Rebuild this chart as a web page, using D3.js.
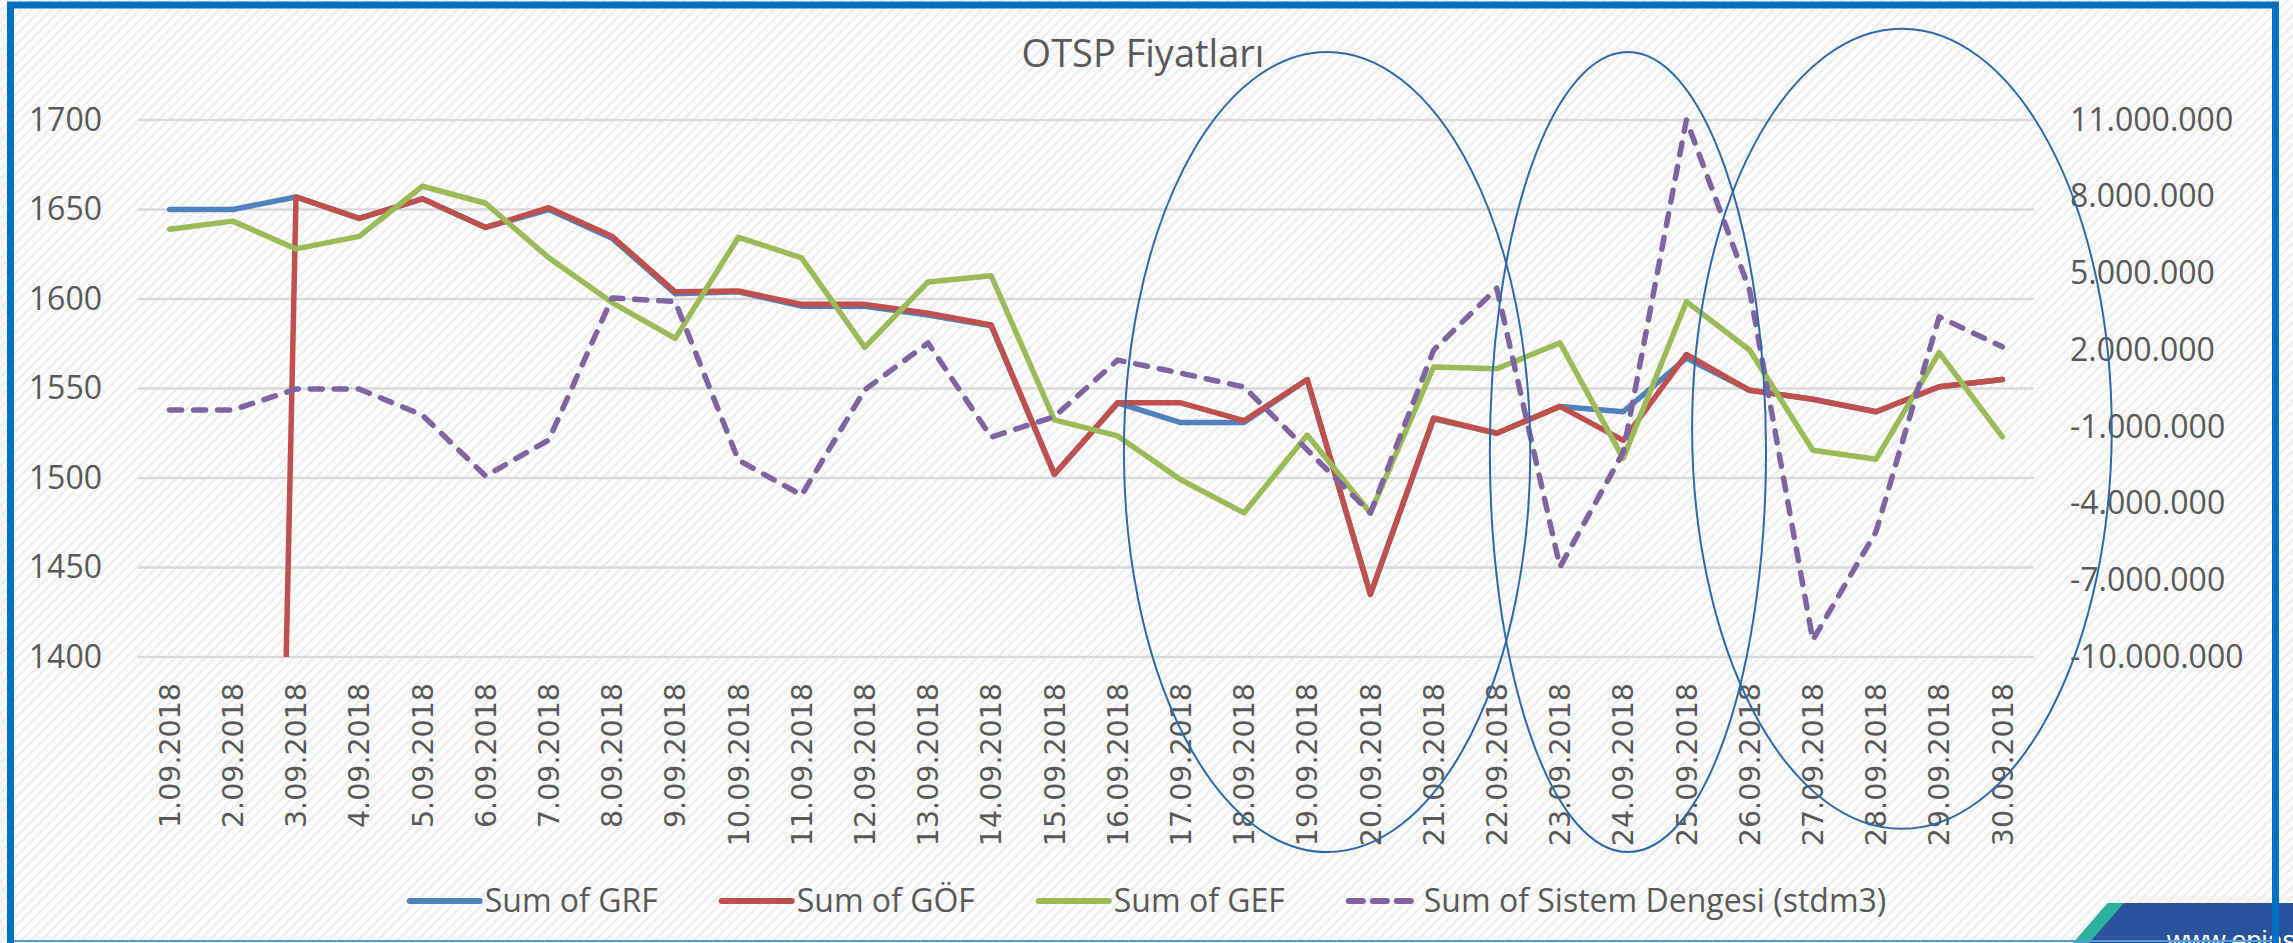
<!DOCTYPE html>
<html>
<head>
<meta charset="utf-8">
<script src="https://cdn.jsdelivr.net/npm/d3@7"></script>
<style>
  html, body { margin: 0; padding: 0; background: #fff; }
  svg { display: block; font-family: "Open Sans", sans-serif; }
</style>
</head>
<body>
<div id="js-canvas"></div>
<script>
"use strict";

// Days on the x axis.
const days = [
  "1.09.2018", "2.09.2018", "3.09.2018", "4.09.2018", "5.09.2018",
  "6.09.2018", "7.09.2018", "8.09.2018", "9.09.2018", "10.09.2018",
  "11.09.2018", "12.09.2018", "13.09.2018", "14.09.2018", "15.09.2018",
  "16.09.2018", "17.09.2018", "18.09.2018", "19.09.2018", "20.09.2018",
  "21.09.2018", "22.09.2018", "23.09.2018", "24.09.2018", "25.09.2018",
  "26.09.2018", "27.09.2018", "28.09.2018", "29.09.2018", "30.09.2018"
];

// Left axis series (TL/MWh).
const grf = [1650, 1650, 1657, 1645, 1656, 1640, 1650, 1634, 1603, 1604,
             1596, 1596, 1591, 1585, 1502, 1542, 1531, 1531, 1555, 1435,
             1533, 1525, 1540, 1537, 1567, 1549, 1544, 1537, 1551, 1555];
const gof = [0, 0, 1657, 1645, 1656, 1640, 1651, 1635, 1604, 1604.5,
             1597, 1597, 1592, 1585.5, 1502, 1542, 1542, 1532, 1555, 1435,
             1533.5, 1525, 1540, 1521, 1569, 1549, 1544, 1537, 1551, 1555];
const gef = [1639, 1643.5, 1628, 1635, 1663, 1653.5, 1623, 1598, 1578, 1634.5,
             1623, 1573, 1609.5, 1613, 1532.5, 1523.5, 1499, 1480.5, 1524, 1480.5,
             1562, 1561, 1575.5, 1511, 1598.5, 1571.5, 1515.5, 1510.5, 1570, 1523];

// Right axis series (stdm3).
const dengesi = [-340000, -340000, 480000, 480000, -540000,
                 -2920000, -1510000, 4040000, 3900000, -2300000,
                 -3670000, 450000, 2280000, -1400000, -600000,
                 1610000, 1100000, 560000, -1900000, -4370000,
                 2000000, 4420000, -6480000, -2000000, 11000000,
                 4350000, -9340000, -5100000, 3300000, 2130000];

const leftTicks = [1400, 1450, 1500, 1550, 1600, 1650, 1700];
const rightTicks = [-10000000, -7000000, -4000000, -1000000,
                    2000000, 5000000, 8000000, 11000000];

// Hand drawn highlight ellipses, in day / price units.
const highlights = [
  { dayFrom: 16.1, dayTo: 22.53, low: 1291, high: 1738 },
  { dayFrom: 21.89, dayTo: 26.26, low: 1291, high: 1738 },
  { dayFrom: 25.09, dayTo: 31.73, low: 1304, high: 1751 }
];

const legendNames = ["Sum of GRF", "Sum of GÖF", "Sum of GEF",
                     "Sum of Sistem Dengesi (stdm3)"];

const width = 2293;
const height = 943;
const plot = { left: 138, right: 2034, top: 120, bottom: 657 };
const textColor = "#595959";

const trLocale = d3.formatLocale({
  decimal: ",", thousands: ".", grouping: [3], currency: ["", ""], minus: "-"
});
const fmtRight = trLocale.format(",");
const fmtLeft = d3.format("d");

const svg = d3.select("#js-canvas")
  .append("svg")
    .attr("width", width)
    .attr("height", height);

const defs = svg.append("defs");
const hatch = defs.append("pattern")
  .attr("id", "hatch")
  .attr("width", 7)
  .attr("height", 7)
  .attr("patternUnits", "userSpaceOnUse")
  .attr("patternTransform", "rotate(45)");
hatch.append("rect").attr("width", 7).attr("height", 7).attr("fill", "#fcfcfc");
hatch.append("line")
  .attr("x1", 1).attr("y1", 0).attr("x2", 1).attr("y2", 7)
  .attr("stroke", "#ececec").attr("stroke-width", 2);

defs.append("clipPath").attr("id", "plot-clip")
  .append("rect")
    .attr("x", plot.left)
    .attr("y", plot.top - 10)
    .attr("width", plot.right - plot.left + 10)
    .attr("height", plot.bottom - plot.top + 10);

svg.append("rect")
  .attr("width", width)
  .attr("height", height)
  .attr("fill", "url(#hatch)");

// Scales
const x = d3.scaleBand().domain(days).range([plot.left, plot.right]);
const cx = function (d) { return x(d) + x.bandwidth() / 2; };
const xDay = d3.scaleLinear().domain([1, 30])
  .range([cx(days[0]), cx(days[days.length - 1])]);
const yLeft = d3.scaleLinear().domain([1400, 1700]).range([plot.bottom, plot.top]);
const yRight = d3.scaleLinear().domain([-10000000, 11000000])
  .range([plot.bottom, plot.top]);

// Gridlines
svg.append("g")
  .selectAll("line")
  .data(leftTicks)
  .enter()
  .append("line")
    .attr("x1", plot.left)
    .attr("x2", plot.right)
    .attr("y1", function (d) { return yLeft(d); })
    .attr("y2", function (d) { return yLeft(d); })
    .attr("stroke", "#d9d9d9")
    .attr("stroke-width", 2.5);

// Left axis labels
const leftAxis = d3.axisLeft(yLeft).tickValues(leftTicks)
  .tickSize(0).tickPadding(0).tickFormat(fmtLeft);
const gl = svg.append("g")
  .attr("transform", "translate(102,0)")
  .call(leftAxis);
gl.select(".domain").remove();
gl.selectAll("text")
  .attr("font-family", "'Open Sans', sans-serif")
  .attr("font-size", 32)
  .attr("fill", textColor);

// Right axis labels
const rightAxis = d3.axisRight(yRight).tickValues(rightTicks)
  .tickSize(0).tickPadding(0).tickFormat(fmtRight);
const gr = svg.append("g")
  .attr("transform", "translate(2070,0)")
  .call(rightAxis);
gr.select(".domain").remove();
gr.selectAll("text")
  .attr("font-family", "'Open Sans', sans-serif")
  .attr("font-size", 32)
  .attr("fill", textColor);

// X labels, rotated
svg.append("g")
  .selectAll("text")
  .data(days)
  .enter()
  .append("text")
    .attr("transform", function (d) {
      return "translate(" + cx(d) + ",683) rotate(-90)";
    })
    .attr("text-anchor", "end")
    .attr("dy", "0.36em")
    .attr("font-family", "'DejaVu Sans', sans-serif")
    .attr("font-size", 28.5)
    .attr("fill", textColor)
    .text(function (d) { return d; });

// Series
const series = [
  { name: legendNames[0], values: grf, color: "#4f81bd", scale: yLeft, dash: null },
  { name: legendNames[1], values: gof, color: "#c0504d", scale: yLeft, dash: null },
  { name: legendNames[2], values: gef, color: "#9bbb59", scale: yLeft, dash: null },
  { name: legendNames[3], values: dengesi, color: "#8064a2", scale: yRight, dash: "12,12" }
];

const lines = svg.append("g").attr("clip-path", "url(#plot-clip)");
series.forEach(function (s) {
  const line = d3.line()
    .x(function (v, i) { return cx(days[i]); })
    .y(function (v) { return s.scale(v); });
  lines.append("path")
    .datum(s.values)
    .attr("d", line)
    .attr("fill", "none")
    .attr("stroke", s.color)
    .attr("stroke-width", 5.5)
    .attr("stroke-linejoin", "round")
    .attr("stroke-linecap", "round")
    .attr("stroke-dasharray", s.dash);
});

// Title
svg.append("text")
  .attr("x", 1143)
  .attr("y", 67)
  .attr("text-anchor", "middle")
  .attr("font-size", 38)
  .attr("fill", textColor)
  .text("OTSP Fiyatları");

// Legend
const legend = svg.append("g");
const items = legend.selectAll("g")
  .data(series)
  .enter()
  .append("g");
items.append("line")
  .attr("x1", 0).attr("x2", 70)
  .attr("y1", 0).attr("y2", 0)
  .attr("stroke", function (s) { return s.color; })
  .attr("stroke-width", 6)
  .attr("stroke-linecap", "round")
  .attr("stroke-dasharray", function (s) { return s.dash ? "14,10" : null; });
items.append("text")
  .attr("x", 75)
  .attr("dy", "0.35em")
  .attr("font-size", 32)
  .attr("fill", textColor)
  .text(function (s) { return s.name; });

let offset = 0;
const gap = 64;
const widths = [];
items.each(function () {
  const w = 75 + d3.select(this).select("text").node().getComputedTextLength();
  widths.push(w);
});
const total = d3.sum(widths) + gap * (widths.length - 1);
const start = 1148 - total / 2;
items.attr("transform", function (s, i) {
  const tx = start + offset;
  offset += widths[i] + gap;
  return "translate(" + tx + ",901)";
});

// Highlight ellipses
svg.append("g")
  .selectAll("ellipse")
  .data(highlights)
  .enter()
  .append("ellipse")
    .attr("cx", function (h) { return (xDay(h.dayFrom) + xDay(h.dayTo)) / 2; })
    .attr("cy", function (h) { return (yLeft(h.low) + yLeft(h.high)) / 2; })
    .attr("rx", function (h) { return (xDay(h.dayTo) - xDay(h.dayFrom)) / 2; })
    .attr("ry", function (h) { return (yLeft(h.low) - yLeft(h.high)) / 2; })
    .attr("fill", "none")
    .attr("stroke", "#2e6aa8")
    .attr("stroke-width", 2);

// Footer logo
const logo = svg.append("g");
logo.append("polygon")
  .attr("points", "2108,903 2293,903 2293,943 2073,943")
  .attr("fill", "#2b529c");
logo.append("polygon")
  .attr("points", "2108,903 2124,903 2089,943 2073,943")
  .attr("fill", "#2bb39c");
logo.append("text")
  .attr("x", 2167)
  .attr("y", 950)
  .attr("font-family", "'Liberation Sans', Arial, sans-serif")
  .attr("font-size", 27)
  .attr("fill", "#ffffff")
  .text("www.epias.com.tr");

// Frame
svg.append("line")
  .attr("x1", 14).attr("x2", 2272)
  .attr("y1", 941).attr("y2", 941)
  .attr("stroke", "#5b9bd5")
  .attr("stroke-width", 2);
svg.append("rect")
  .attr("x", 10.5)
  .attr("y", 5)
  .attr("width", 2265)
  .attr("height", 960)
  .attr("fill", "none")
  .attr("stroke", "#0070c0")
  .attr("stroke-width", 7);
</script>
</body>
</html>
